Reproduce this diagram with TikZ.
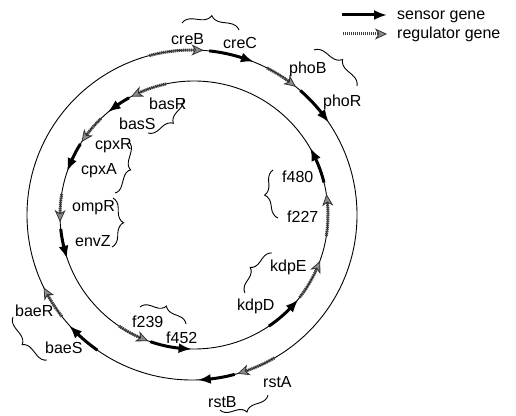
\documentclass[tikz,border=0pt]{standalone}
\usepackage{fontspec}
\setmainfont{Liberation Sans}
\usetikzlibrary{arrows.meta,bending,decorations.pathreplacing}
\newcommand\genearc[5]{\draw[#1] ([shift={(#3:#5)}]#2) arc[start angle=#3, end angle=#4, radius=#5];}
\begin{document}
\begin{tikzpicture}[x=1pt,y=1pt,
  lab/.style={font=\fontsize{16}{19}\selectfont, inner sep=0pt, anchor=base west},
  ring/.style={line width=0.9pt},
  sensorarrow/.style={line width=3pt, -{Latex[length=13pt,width=10pt,bend]}},
  regarrow/.style={draw=black!75, line width=3pt, dash pattern=on 1.3pt off 0.7pt,
     -{Stealth[length=12pt,width=11pt,inset=3.5pt,bend,fill=black!45,color=black!80,line width=0.8pt]}},
  gbrace/.style={line width=0.9pt, decorate, decoration={brace, amplitude=#1}},
  gbrace/.default=11pt]
\useasboundingbox (0,0) rectangle (516,415);
\coordinate (O) at (192,200);
\coordinate (I) at (194,200);
\draw[ring] (O) circle[radius=165];
\draw[ring] (I) circle[radius=134];
% outer ring genes (clockwise)
\genearc{regarrow}{O}{105}{86}{165}
\genearc{sensorarrow}{O}{84}{68}{165}
\genearc{regarrow}{O}{63}{51}{165}
\genearc{sensorarrow}{O}{49}{34}{165}
\genearc{regarrow}{O}{-60}{-74}{165}
\genearc{sensorarrow}{O}{-75}{-88}{165}
\genearc{sensorarrow}{O}{235}{222}{165}
\genearc{regarrow}{O}{218}{206}{165}
% inner ring genes (counterclockwise)
\genearc{regarrow}{I}{102}{118}{134}
\genearc{sensorarrow}{I}{119}{130}{134}
\genearc{regarrow}{I}{134}{147}{134}
\genearc{sensorarrow}{I}{148}{161}{134}
\genearc{regarrow}{I}{171}{183}{134}
\genearc{sensorarrow}{I}{186}{199}{134}
\genearc{regarrow}{I}{236}{250}{134}
\genearc{sensorarrow}{I}{251}{269}{134}
\genearc{sensorarrow}{I}{304}{321}{134}
\genearc{regarrow}{I}{322}{340}{134}
\genearc{regarrow}{I}{-9}{9}{134}
\genearc{sensorarrow}{I}{14}{30}{134}
% legend
\coordinate (ls1) at (342,400); \coordinate (ls2) at (387,400);
\coordinate (lr1) at (343,381); \coordinate (lr2) at (387,381);
\draw[sensorarrow] (ls1) -- (ls2);
\draw[regarrow] (lr1) -- (lr2);
\node[lab] (legS) at (397,395) {sensor gene};
\node[lab] (legR) at (397,376) {regulator gene};
% labels
\node[lab] (creB) at (171,370) {creB};
\node[lab] (creC) at (223,366) {creC};
\node[lab] (phoB) at (289,341) {phoB};
\node[lab] (phoR) at (323,308) {phoR};
\node[lab] (basR) at (149,305) {basR};
\node[lab] (basS) at (119,285) {basS};
\node[lab] (cpxR) at (95,265) {cpxR};
\node[lab] (cpxA) at (81,240) {cpxA};
\node[lab] (ompR) at (72,203) {ompR};
\node[lab] (envZ) at (75,168) {envZ};
\node[lab] (f480) at (282,232) {f480};
\node[lab] (f227) at (287,192) {f227};
\node[lab] (kdpE) at (270,143) {kdpE};
\node[lab] (kdpD) at (237,105) {kdpD};
\node[lab] (f239) at (132,88) {f239};
\node[lab] (f452) at (166,72) {f452};
\node[lab] (baeR) at (15,99) {baeR};
\node[lab] (baeS) at (45,62) {baeS};
\node[lab] (rstB) at (208,8) {rstB};
\node[lab] (rstA) at (263,28) {rstA};
% braces
\draw[gbrace] (182,392) -- (239,385);
\draw[gbrace] (314,365) -- (357,329);
\draw[gbrace] (183,317) -- (148,282);
\draw[gbrace=9pt] (129,273) -- (115,222);
\draw[gbrace] (113,217) -- (112,168);
\draw[gbrace] (278,197) -- (273,245);
\draw[gbrace=10pt] (245,122) -- (272,162);
\draw[gbrace=10pt] (140,108) -- (186,91);
\draw[gbrace=10pt] (47,55) -- (13,98);
\draw[gbrace=10pt] (268,20) -- (220,5);
\end{tikzpicture}
\end{document}
